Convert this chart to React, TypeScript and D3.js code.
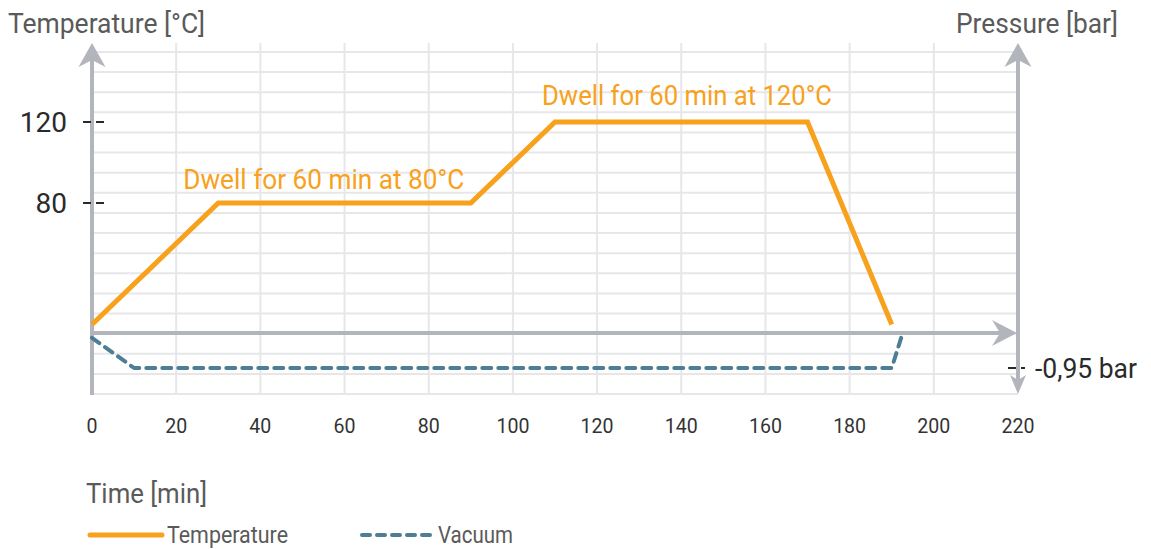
import React from "react";
import * as d3 from "d3";

// ---- data ----
const timeTicks = [0, 20, 40, 60, 80, 100, 120, 140, 160, 180, 200, 220];
const tempTicks = [80, 120];
const pressureTicks = [-0.95];
const tempTime = [0, 30, 90, 110, 170, 190];
const tempValues = [20, 80, 80, 120, 120, 20];
const vacTime = [0, 10, 190, 192.3];
const vacValues = [-0.13, -0.95, -0.95, -0.11];
const gridRows = d3.range(0, 18);
const annotations = [
  { t: 30, v: 80, text: "Dwell for 60 min at 80°C", w: 281, dx: -35, dy: -14 },
  { t: 110, v: 120, text: "Dwell for 60 min at 120°C", w: 290, dx: -13, dy: -17 },
];

const W = 1151;
const H = 549;
const ORANGE = "#F8A11C";
const BLUE = "#4E7E96";
const AXIS = "#B3B5BC";
const GRID = "#E7E7EA";
const FONT = "Roboto, 'Noto Sans', sans-serif";

export default function App() {
  const x = d3.scaleLinear().domain([0, 220]).range([92, 1018]);
  const yT = d3.scaleLinear().domain([80, 120]).range([203, 122]);
  const yP = d3.scaleLinear().domain([-0.95, 0]).range([368, 333]);
  const gy = d3.scaleLinear().domain([0, 17]).range([394, 52]);

  const tempLine = d3
    .line<number>()
    .x((d, i) => x(tempTime[i]))
    .y((d) => yT(d));
  const vacLine = d3
    .line<number>()
    .x((d, i) => x(vacTime[i]))
    .y((d) => yP(d));

  const x0 = x(0);
  const xEnd = x(220);
  const yAxis = yP(0);
  const top = 43;
  const bottom = gy(0);

  const upArrow = (cx: number, tipY: number, hw: number, len: number, notch: number) =>
    `M${cx},${tipY} L${cx + hw},${tipY + len} L${cx},${tipY + len - notch} L${cx - hw},${tipY + len} Z`;
  const downArrow = (cx: number, tipY: number, hw: number, len: number, notch: number) =>
    `M${cx},${tipY} L${cx + hw},${tipY - len} L${cx},${tipY - len + notch} L${cx - hw},${tipY - len} Z`;
  const rightArrow = (tipX: number, cy: number, hw: number, len: number, notch: number) =>
    `M${tipX},${cy} L${tipX - len},${cy - hw} L${tipX - len + notch},${cy} L${tipX - len},${cy + hw} Z`;

  const fmtP = (p: number) => d3.format(".2f")(p).replace(".", ",").replace("\u2212", "-") + " bar";

  return (
    <svg
      width={W}
      height={H}
      viewBox={`0 0 ${W} ${H}`}
      style={{ position: "absolute", left: 0, top: 0, background: "#fff" }}
      fontFamily={FONT}
    >
      {/* grid */}
      <g stroke={GRID} strokeWidth={2}>
        {gridRows.map((r) => (
          <line key={"h" + r} x1={x0} x2={xEnd} y1={gy(r)} y2={gy(r)} />
        ))}
        {timeTicks.slice(1, -1).map((t) => (
          <line key={"v" + t} x1={x(t)} x2={x(t)} y1={top} y2={bottom} />
        ))}
      </g>

      {/* axes */}
      <g stroke={AXIS} strokeWidth={4} fill="none">
        <line x1={x0} x2={x0} y1={bottom + 1} y2={top + 15} />
        <line x1={xEnd} x2={xEnd} y1={top + 15} y2={bottom - 10} />
        <line x1={x0} x2={xEnd - 15} y1={yAxis} y2={yAxis} />
      </g>
      <g fill={AXIS}>
        <path d={upArrow(x0, top, 13.5, 24, 7)} />
        <path d={upArrow(xEnd, top, 13.5, 24, 7)} />
        <path d={rightArrow(xEnd - 1, yAxis, 13, 25, 8)} />
        <path d={downArrow(xEnd, bottom, 8, 19, 5)} />
      </g>

      {/* tick dashes */}
      <g stroke="#2A2A2A" strokeWidth={2} strokeDasharray="8 5">
        {tempTicks.map((t) => (
          <line key={t} x1={83} x2={104} y1={yT(t)} y2={yT(t)} />
        ))}
        {pressureTicks.map((p) => (
          <line key={p} x1={1008} x2={1025} y1={yP(p)} y2={yP(p)} />
        ))}
      </g>

      {/* y tick labels */}
      <g fill="#2A2A2A" fontSize={28} textAnchor="end">
        {tempTicks.map((t) => (
          <text key={t} x={67} y={yT(t) + 10}>
            {t}
          </text>
        ))}
      </g>
      {pressureTicks.map((p) => (
        <text
          key={p}
          x={1035}
          y={yP(p) + 10}
          fill="#2A2A2A"
          fontSize={28}
          textLength={102}
          lengthAdjust="spacingAndGlyphs"
        >
          {fmtP(p)}
        </text>
      ))}

      {/* x tick labels */}
      <g fill="#333" fontSize={21} textAnchor="middle">
        {timeTicks.map((t) => (
          <text key={t} x={x(t)} y={433} textLength={t >= 100 ? 33 : t === 0 ? 11 : 22} lengthAdjust="spacingAndGlyphs">
            {t}
          </text>
        ))}
      </g>

      {/* axis titles */}
      <g fill="#5A5A5A" fontSize={28}>
        <text x={8} y={33} textLength={197} lengthAdjust="spacingAndGlyphs">
          Temperature [°C]
        </text>
        <text x={956} y={33} textLength={162} lengthAdjust="spacingAndGlyphs">
          Pressure [bar]
        </text>
        <text x={86} y={503} textLength={121} lengthAdjust="spacingAndGlyphs">
          Time [min]
        </text>
      </g>

      {/* data lines */}
      <path
        d={vacLine(vacValues) || ""}
        fill="none"
        stroke={BLUE}
        strokeWidth={4}
        strokeDasharray="9 7"
        strokeLinecap="round"
        strokeLinejoin="round"
      />
      <path
        d={tempLine(tempValues) || ""}
        fill="none"
        stroke={ORANGE}
        strokeWidth={5}
        strokeLinejoin="miter"
      />

      {/* annotations */}
      <g fill={ORANGE} fontSize={28}>
        {annotations.map((a) => (
          <text
            key={a.text}
            x={x(a.t) + a.dx}
            y={yT(a.v) + a.dy}
            textLength={a.w}
            lengthAdjust="spacingAndGlyphs"
          >
            {a.text}
          </text>
        ))}
      </g>

      {/* legend */}
      <line x1={90} x2={162} y1={535} y2={535} stroke={ORANGE} strokeWidth={5} strokeLinecap="round" />
      <text x={167} y={543} fill="#5A5A5A" fontSize={24} textLength={121} lengthAdjust="spacingAndGlyphs">
        Temperature
      </text>
      <line
        x1={362}
        x2={431}
        y1={535}
        y2={535}
        stroke={BLUE}
        strokeWidth={4}
        strokeDasharray="8 7"
        strokeLinecap="round"
      />
      <text x={438} y={543} fill="#5A5A5A" fontSize={24} textLength={75} lengthAdjust="spacingAndGlyphs">
        Vacuum
      </text>
    </svg>
  );
}
